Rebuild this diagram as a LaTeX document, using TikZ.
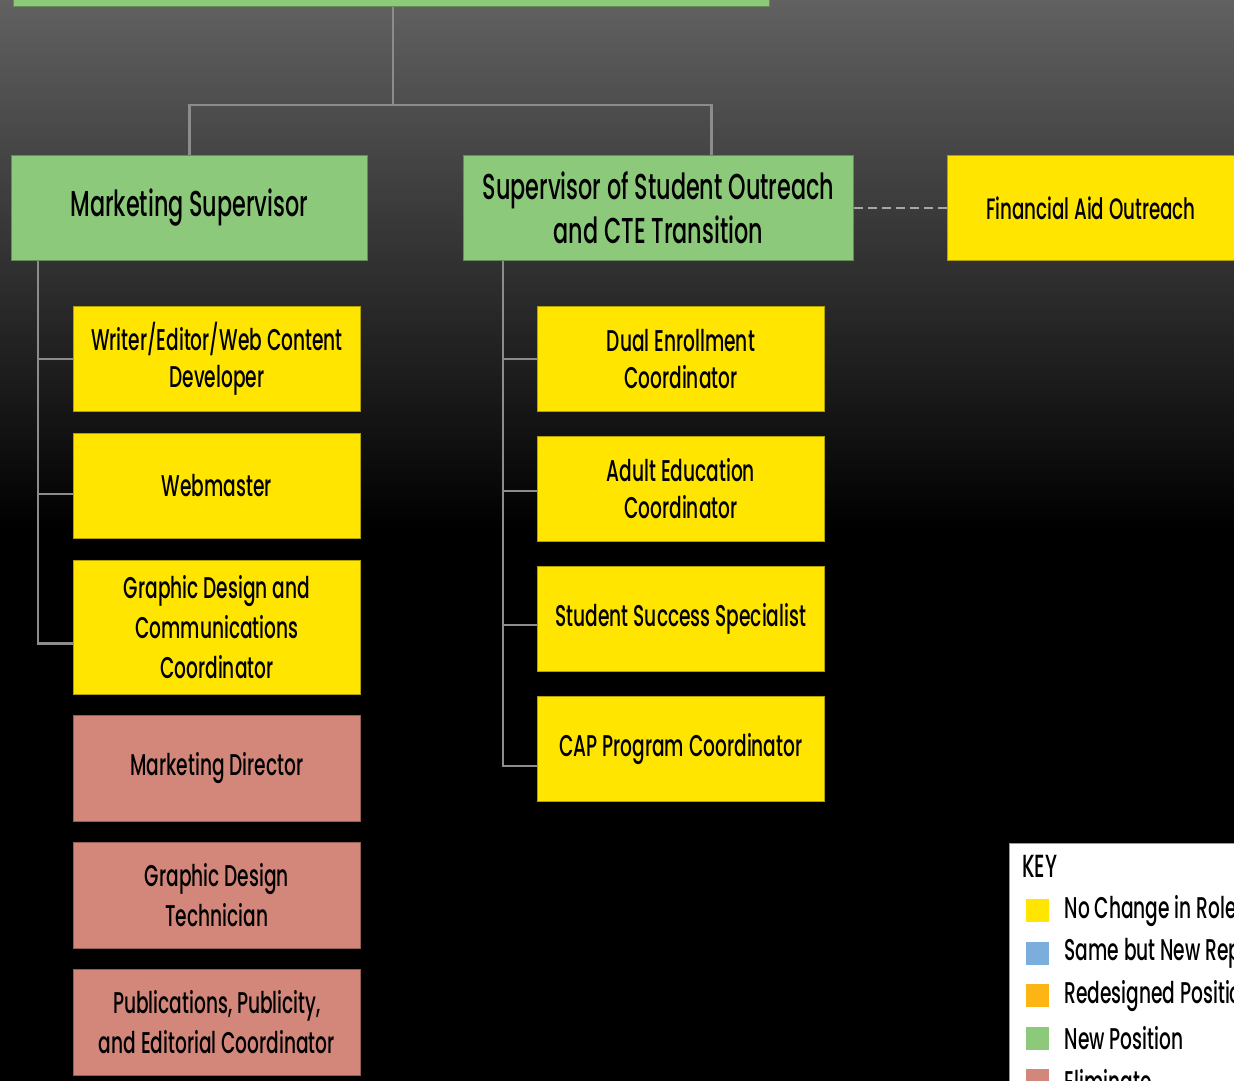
\documentclass[tikz,border=0pt]{standalone}
\usepackage{fontspec}
\setmainfont{Poppins}[FakeStretch=0.62,UprightFont={* Medium}]
\usepackage{xcolor}
\usepackage{tikz}
\usetikzlibrary{calc}

\definecolor{roleyellow}{HTML}{FFE500}
\definecolor{roleblue}{HTML}{7BAEDC}
\definecolor{roleorange}{HTML}{FDB515}
\definecolor{rolegreen}{HTML}{8DC97A}
\definecolor{rolered}{HTML}{D3877A}
\definecolor{linkgray}{HTML}{8C8C8C}

\begin{document}
\begin{tikzpicture}[x=1pt,y=-1pt,
role/.style={draw=#1!70!black,fill=#1,line width=0.8pt,anchor=north west,
  align=center,inner sep=0pt,minimum width=287pt,minimum height=105pt,
  font=\fontsize{30}{37}\selectfont},
head/.style={role=rolegreen,font=\fontsize{36}{44}\selectfont},
link/.style={draw=linkgray,line width=2.8pt},
swatch/.style={fill=#1,draw=none,minimum size=23pt,inner sep=0pt,anchor=north west},
keytext/.style={anchor=west,inner sep=0pt,font=\fontsize{30}{30}\selectfont}]
\useasboundingbox (0,0) rectangle (1234,1081);
\clip (0,0) rectangle (1234,1081);
\fill[black] (0,0) rectangle (1234,1081);
\shade[top color=black!62,bottom color=black] (0,0) rectangle (1234,530);

% top level, cut off by the frame
\node[head,minimum width=756pt,minimum height=60pt,anchor=south west] (dean) at (13,7) {};

% second level
\node[head,minimum width=356pt] (msup) at (11,155) {Marketing Supervisor};
\node[head,minimum width=390pt] (sso) at (463,155) {Supervisor of Student Outreach\\and CTE Transition};
\node[role=roleyellow,minimum width=320pt,font=\fontsize{29.5}{37}\selectfont] (fao) at (947,155) {\hspace*{-33pt}Financial Aid Outreach};

% marketing staff
\node[role=roleyellow] (writer) at (73,306) {Writer/Editor/Web Content\\Developer};
\node[role=roleyellow] (webm) at (73,433) {Webmaster};
\node[role=roleyellow,minimum height=134pt,font=\fontsize{30}{40}\selectfont] (gdc) at (73,560) {Graphic Design and\\Communications\\Coordinator};
\node[role=rolered,minimum height=106pt] (mdir) at (73,715) {Marketing Director};
\node[role=rolered,minimum height=106pt,font=\fontsize{30}{40}\selectfont] (gdt) at (73,842) {Graphic Design\\Technician};
\node[role=rolered,minimum height=106pt,font=\fontsize{30}{40}\selectfont] (pub) at (73,969) {Publications, Publicity,\\and Editorial Coordinator};

% outreach staff
\node[role=roleyellow] (dual) at (537,306) {Dual Enrollment\\Coordinator};
\node[role=roleyellow] (adult) at (537,436) {Adult Education\\Coordinator};
\node[role=roleyellow] (sss) at (537,566) {Student Success Specialist};
\node[role=roleyellow] (cap) at (537,696) {CAP Program Coordinator};

% connectors
\coordinate (split) at (393,105);
\draw[link] (dean.south -| split) -- (split);
\draw[link] (msup.north) |- (split) -| ([xshift=53pt]sso.north);
\draw[link,dashed,dash pattern=on 9pt off 5pt,draw=black!35] (sso.east) -- (fao.west);

\coordinate (ltrunk) at ([xshift=27pt]msup.south west);
\draw[link] (ltrunk) |- ([yshift=-16pt]gdc.west);
\draw[link] (writer.west) -| (ltrunk);
\draw[link] ([yshift=-8pt]webm.west) -| (ltrunk);

\coordinate (rtrunk) at ([xshift=40pt]sso.south west);
\draw[link] (rtrunk) |- ([yshift=-17pt]cap.west);
\draw[link] (dual.west) -| (rtrunk);
\draw[link] ([yshift=-2pt]adult.west) -| (rtrunk);
\draw[link] ([yshift=-6pt]sss.west) -| (rtrunk);

% key
\node[draw=black!40,fill=white,line width=1pt,anchor=north west,minimum width=300pt,minimum height=300pt] (key) at (1009,843) {};
\node[anchor=west,inner sep=0pt,font=\fontsize{32}{32}\selectfont] (keyhead) at (1022,866) {KEY};
\foreach \col/\txt [count=\i from 0] in {roleyellow/No Change in Role,roleblue/Same but New Reporting,roleorange/Redesigned Position,rolegreen/New Position,rolered/Eliminate}{
  \node[swatch=\col] (sw\i) at (1026,{899+42.5*\i}) {};
  \node[keytext] (kt\i) at ([xshift=15pt]sw\i.east) {\txt};
}
\end{tikzpicture}
\end{document}
